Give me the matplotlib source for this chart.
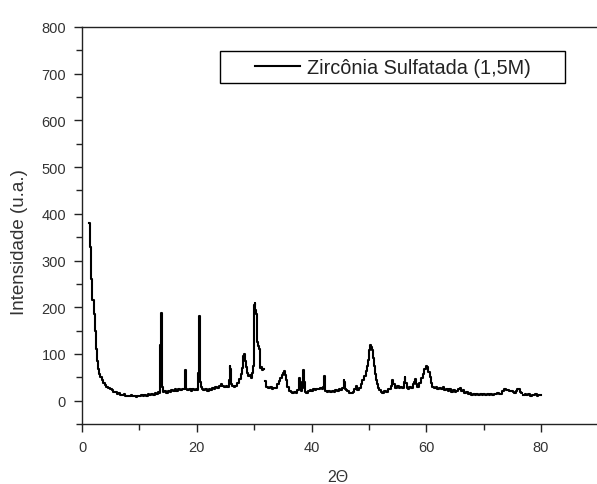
import numpy as np
import matplotlib.pyplot as plt
from matplotlib.patches import Rectangle
from matplotlib.ticker import MultipleLocator

plt.rcParams["font.family"] = ["Liberation Sans", "DejaVu Sans"]

# ---------------------------------------------------------------------------
# Data read off the diffractogram (NaN = gap in the recorded trace)
# ---------------------------------------------------------------------------
TWO_THETA = [
    1.3, 1.5, 1.7, 1.9, 2.1, 2.3, 2.45, 2.6, 2.75, 2.9, 3.1, 3.3, 3.5, 3.8, 4.1,
    4.4, 4.7, 5.0, 5.3, 5.6, 5.9, 6.2, 6.5, 6.8, 7.1, 7.4, 7.7, 8.0, 8.3, 8.6,
    8.9, 9.2, 9.5, 9.8, 10.1, 10.4, 10.7, 11.0, 11.3, 11.6, 11.9, 12.2, 12.5,
    12.8, 13.1, 13.4, 13.6, 13.75, 13.85, 13.95, 14.05, 14.2, 14.5, 14.8, 15.1,
    15.4, 15.7, 16.0, 16.3, 16.6, 16.9, 17.2, 17.5, 17.8, 17.95, 18.05, 18.15,
    18.25, 18.5, 18.8, 19.1, 19.4, 19.7, 20.0, 20.2, 20.35, 20.45, 20.55, 20.65,
    20.8, 21.0, 21.3, 21.6, 21.9, 22.2, 22.5, 22.8, 23.1, 23.4, 23.7, 24.0,
    24.3, 24.6, 24.9, 25.2, 25.5, 25.7, 25.8, 25.9, 26.0, 26.3, 26.6, 26.9,
    27.2, 27.5, 27.8, 28.0, 28.2, 28.35, 28.5, 28.7, 28.9, 29.1, 29.3, 29.5,
    29.7, 29.85, 29.95, 30.05, 30.15, 30.3, 30.45, 30.6, 30.75, 30.9, 31.0,
    31.1, 31.3, 31.5, 31.65, 31.8, 32.0, 32.3, 32.6, 32.9, 33.2, 33.5, 33.8,
    34.1, 34.4, 34.7, 34.9, 35.1, 35.3, 35.5, 35.7, 35.9, 36.2, 36.5, 36.8,
    37.1, 37.4, 37.7, 37.85, 37.95, 38.05, 38.2, 38.4, 38.55, 38.65, 38.75,
    38.9, 39.2, 39.5, 39.8, 40.1, 40.4, 40.7, 41.0, 41.3, 41.6, 41.9, 42.1,
    42.25, 42.35, 42.5, 42.8, 43.1, 43.4, 43.7, 44.0, 44.3, 44.6, 44.9, 45.2,
    45.5, 45.65, 45.75, 45.9, 46.1, 46.4, 46.7, 47.0, 47.3, 47.6, 47.9, 48.1,
    48.4, 48.7, 49.0, 49.3, 49.6, 49.8, 50.0, 50.15, 50.3, 50.45, 50.6, 50.8,
    51.0, 51.15, 51.3, 51.5, 51.7, 51.9, 52.2, 52.5, 52.8, 53.1, 53.4, 53.7,
    54.0, 54.2, 54.35, 54.6, 54.8, 55.1, 55.4, 55.6, 55.9, 56.2, 56.3, 56.45,
    56.7, 56.9, 57.2, 57.5, 57.8, 58.0, 58.1, 58.3, 58.6, 58.9, 59.2, 59.5,
    59.8, 60.0, 60.2, 60.5, 60.7, 60.9, 61.2, 61.5, 61.8, 62.1, 62.4, 62.7,
    63.0, 63.3, 63.6, 63.9, 64.2, 64.5, 64.8, 65.1, 65.4, 65.7, 65.9, 66.2,
    66.5, 66.8, 67.1, 67.4, 67.7, 68.0, 68.3, 68.6, 68.9, 69.2, 69.5, 69.8,
    70.1, 70.4, 70.7, 71.0, 71.3, 71.6, 71.9, 72.2, 72.5, 72.8, 73.1, 73.4,
    73.7, 74.0, 74.3, 74.6, 74.9, 75.2, 75.5, 75.8, 76.0, 76.2, 76.4, 76.6,
    76.8, 77.0, 77.3, 77.6, 77.9, 78.2, 78.5, 78.8, 79.1, 79.4, 79.7, 80.0,
]
INTENSITY = [
    380, 330, 260, 215, 185, 150, 110, 96, 85, 68, 58, 50, 45, 38, 33,
    30, 27, 24, 22, 19, 18, 15, 16, 13, 12, 14, 10, 11, 9, 12,
    9, 10, 8, 11, 9, 12, 10, 13, 11, 14, 12, 15, 13,
    16, 15, 18, 17, 120, 188, 185, 30, 18, 20, 17, 21,
    19, 22, 20, 24, 21, 25, 22, 26, 24, 30, 65, 60,
    24, 22, 25, 21, 24, 22, 25, 23, 60, 181, 170, 40,
    30, 25, 22, 24, 21, 25, 23, 27, 26, 29, 28, 32,
    35, 32, 30, 31, 30, 45, 74, 68, 35, 31, 30, 32,
    38, 46, 58, 70, 95, 100, 85, 72, 60, 52, 55, 48,
    60, 74, 150, 205, 210, 195, 185, 125, 118, 110, 90,
    70, 72, 66, 68, np.nan, 42, 30, 27, 29, 26, 28, 27,
    35, 42, 48, 55, 60, 64, 55, 45, 30, 20, 18, 17,
    19, 17, 22, 35, 49, 40, 20, 28, 60, 65, 40,
    18, 17, 20, 22, 21, 24, 23, 26, 24, 27, 25, 30,
    52, 50, 20, 19, 21, 18, 20, 19, 22, 21, 24, 23,
    28, 44, 40, 25, 23, 20, 17, 16, 19, 25, 31, 22,
    27, 35, 45, 52, 63, 75, 88, 108, 120, 115, 109, 92,
    74, 58, 45, 35, 28, 23, 18, 16, 20, 18, 26, 24,
    32, 45, 35, 28, 27, 32, 28, 30, 28, 40, 50, 38,
    27, 26, 30, 28, 35, 40, 46, 36, 30, 38, 49, 58,
    67, 75, 72, 62, 50, 38, 30, 27, 30, 24, 28, 25,
    29, 23, 26, 21, 24, 19, 22, 18, 21, 24, 27, 20,
    22, 16, 18, 15, 16, 13, 15, 12, 14, 13, 15, 12,
    14, 13, 15, 12, 14, 13, 15, 14, 16, 14, 15, 20,
    24, 22, 23, 20, 21, 18, 17, 20, 24, 26, 18, 17,
    np.nan, 13, 14, 12, 14, 11, 13, 12, 14, 11, 13, 12,
]
SERIES_LABEL = "Zircônia Sulfatada (1,5M)"
X_LABEL = "2\u0398"
Y_LABEL = "Intensidade (u.a.)"


def main():
    fig = plt.figure(figsize=(5.97, 4.85), dpi=100)
    ax = fig.add_axes([0.1374, 0.1237, 0.8626, 0.8186])

    ax.plot(TWO_THETA, INTENSITY, color="black", lw=1.5, label=SERIES_LABEL,
            drawstyle="steps-mid")

    ax.set_xlim(0, 89.76)
    ax.set_ylim(-50, 800)
    ax.xaxis.set_major_locator(MultipleLocator(20))
    ax.xaxis.set_minor_locator(MultipleLocator(10))
    ax.yaxis.set_major_locator(MultipleLocator(100))
    ax.yaxis.set_minor_locator(MultipleLocator(50))

    ax.spines["right"].set_visible(False)
    for s in ("left", "bottom", "top"):
        ax.spines[s].set_linewidth(1.0)
        ax.spines[s].set_color("#222222")

    ax.tick_params(which="major", direction="out", length=5.5, width=1.0,
                   color="#222222", labelsize=10.5, labelcolor="#333333", pad=6)
    ax.tick_params(which="minor", direction="out", length=4, width=1.0,
                   color="#222222")
    ax.tick_params(top=False, right=False, which="both")

    ax.set_xlabel(X_LABEL, fontsize=11.5, color="#333333")
    ax.set_ylabel(Y_LABEL, fontsize=13.5, color="#333333")
    ax.xaxis.set_label_coords(0.497, -0.113)
    ax.yaxis.set_label_coords(-0.105, 0.461)

    # legend box drawn separately so padding matches the original
    ax.add_patch(Rectangle((0.268, 0.859), 0.670, 0.0805, transform=ax.transAxes,
                           fill=False, edgecolor="black", lw=1.0, zorder=5))
    ax.legend(loc="center", bbox_to_anchor=(0.603, 0.899), frameon=False,
              fontsize=14.3, handlelength=2.26, handletextpad=0.35,
              labelcolor="#222222")

    fig.savefig("out.png", dpi=100)
    plt.close(fig)


if __name__ == "__main__":
    main()
